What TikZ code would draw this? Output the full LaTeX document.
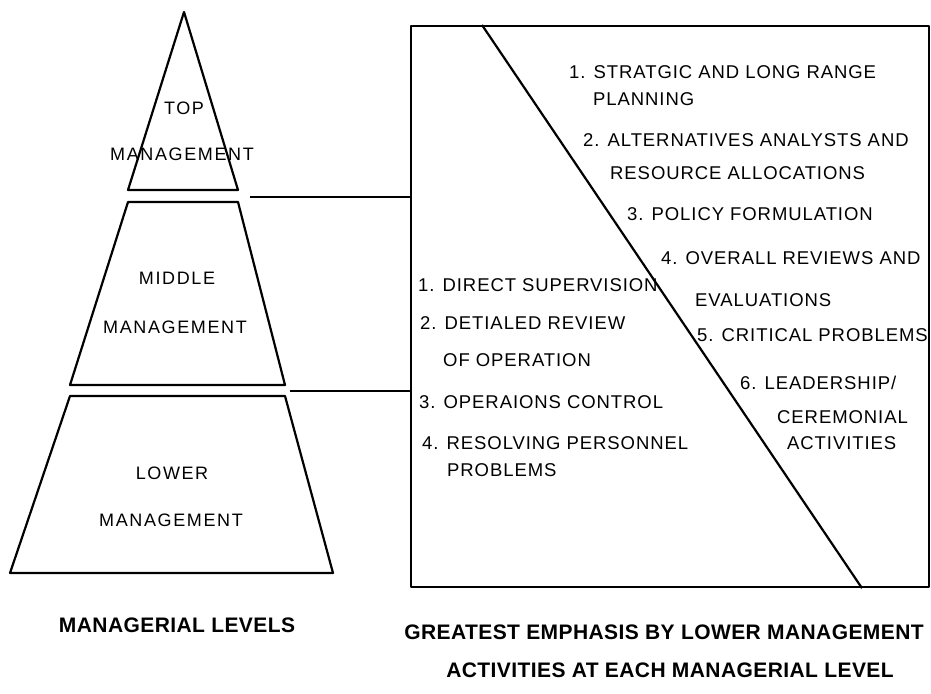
\documentclass[tikz,border=0pt]{standalone}
\usepackage{fontspec}
\newfontfamily\lettering[LetterSpace=5]{Liberation Sans}
\newfontfamily\levelfont[LetterSpace=9]{Liberation Sans}
\newfontfamily\captionfont[LetterSpace=2]{Liberation Sans Bold}
\usetikzlibrary{positioning}

\begin{document}
\begin{tikzpicture}[
        x=1pt,
        y=-1pt,
        outline/.style={
            line width=2.2pt,
            line join=round,
        },
        link/.style={
            line width=1.6pt,
        },
        level/.style={
            inner sep=0pt,
            font=\levelfont\fontsize{18}{20}\selectfont,
        },
        activity/.style={
            anchor=west,
            inner sep=0pt,
            font=\lettering\fontsize{18.5}{20}\selectfont,
        },
        caption/.style={
            inner sep=0pt,
            font=\captionfont\fontsize{21}{23}\selectfont,
        },
    ]
    \useasboundingbox (0,0) rectangle (931,693);

    % Pyramid of levels.
    \draw[outline] (184,12) -- (238,190) -- (128,190) -- cycle;
    \draw[outline] (128,202) -- (238,202) -- (285,385) -- (70,385) -- cycle;
    \draw[outline] (70,396) -- (285,396) -- (333,573) -- (10,573) -- cycle;

    \node[level] (top-a) at (184,108) {TOP};
    \node[level] (top-b) at (182,154) {MANAGEMENT};
    \node[level] (mid-a) at (177,278) {MIDDLE};
    \node[level] (mid-b) at (175,327) {MANAGEMENT};
    \node[level] (low-a) at (172,473) {LOWER};
    \node[level] (low-b) at (171,520) {MANAGEMENT};
    \node[caption] (levels) at (177,625) {MANAGERIAL LEVELS};

    % Activity box and its split.
    \node[draw, outline, anchor=north west, minimum width=518, minimum height=561] (box) at (410,25) {};
    \path (box.north west) ++(72,0) coordinate (cut-a);
    \path (box.south west) ++(452,0) coordinate (cut-b);
    \draw[outline] (cut-a) -- (cut-b);

    % Links from the level gaps.
    \coordinate (gap-top) at (250,197);
    \coordinate (gap-low) at (290,391);
    \draw[link] (gap-top) -- (gap-top -| box.west);
    \draw[link] (gap-low) -- (gap-low -| box.west);

    % Upper levels.
    \node[activity] (up-1a) at (569,72) {1. STRATGIC AND LONG RANGE};
    \node[activity] (up-1b) at (593,99) {PLANNING};
    \node[activity] (up-2a) at (583,140) {2. ALTERNATIVES ANALYSTS AND};
    \node[activity] (up-2b) at (610,173) {RESOURCE ALLOCATIONS};
    \node[activity] (up-3) at (627,214) {3. POLICY FORMULATION};
    \node[activity] (up-4a) at (661,258) {4. OVERALL REVIEWS AND};
    \node[activity] (up-4b) at (695,300) {EVALUATIONS};
    \node[activity] (up-5) at (697,335) {5. CRITICAL PROBLEMS};
    \node[activity] (up-6a) at (740,383) {6. LEADERSHIP/};
    \node[activity] (up-6b) at (777,417) {CEREMONIAL};
    \node[activity] (up-6c) at (787,443) {ACTIVITIES};

    % Lower level.
    \node[activity] (low-1) at (418,285) {1. DIRECT SUPERVISION};
    \node[activity] (low-2a) at (420,323) {2. DETIALED REVIEW};
    \node[activity] (low-2b) at (443,360) {OF OPERATION};
    \node[activity] (low-3) at (419,402) {3. OPERAIONS CONTROL};
    \node[activity] (low-4a) at (422,443) {4. RESOLVING PERSONNEL};
    \node[activity] (low-4b) at (447,470) {PROBLEMS};

    \node[caption] (emph-a) at (664,632) {GREATEST EMPHASIS BY LOWER MANAGEMENT};
    \node[caption] (emph-b) at (670,670) {ACTIVITIES AT EACH MANAGERIAL LEVEL};
\end{tikzpicture}
\end{document}
